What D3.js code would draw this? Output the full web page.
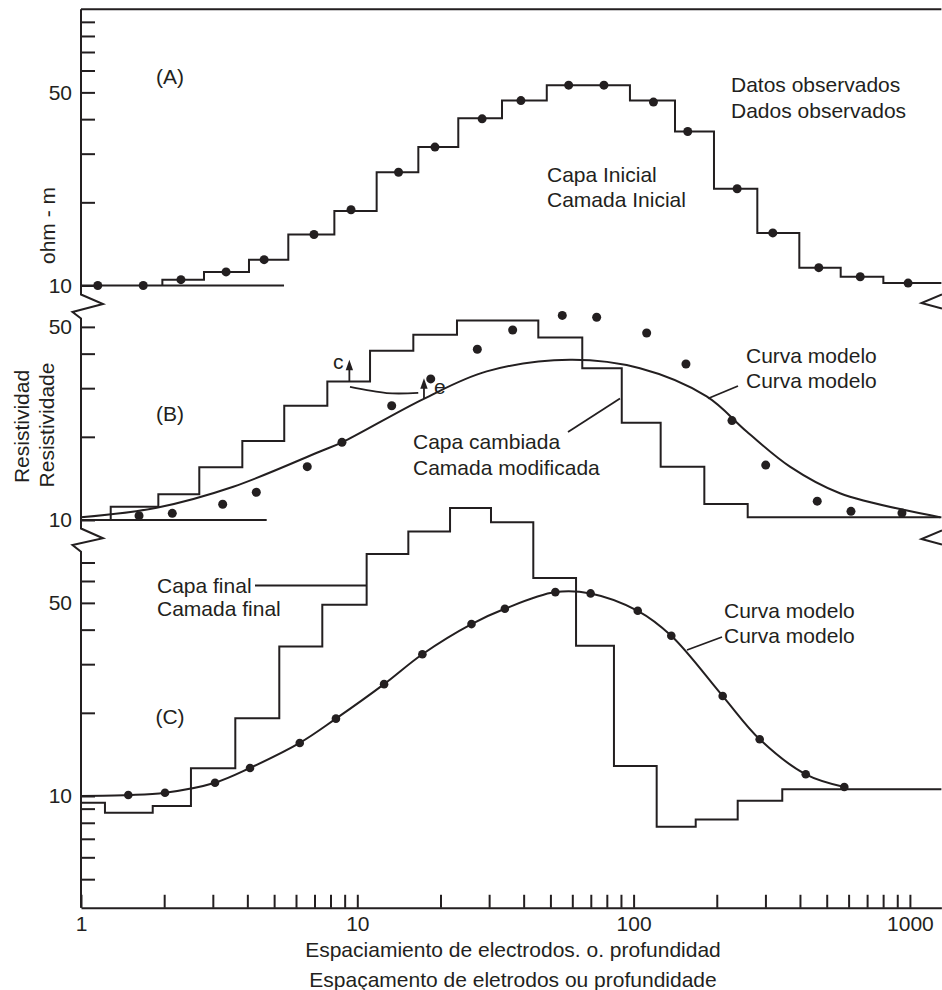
<!DOCTYPE html>
<html>
<head>
<meta charset="utf-8">
<script src="https://cdn.jsdelivr.net/npm/d3@7"></script>
<style>
body { margin: 0; background: #fff; }
svg text { font-family: "Liberation Sans", Arial, Helvetica, sans-serif; font-size: 21px; fill: #231f20; }
</style>
</head>
<body>
<div id="chart"></div>
<script>
// ---- data (x = spacing/depth, y = ohm-m) ----
// (A) observed data + initial layers
var obsA = [[1.15,10.0],[1.68,10.0],[2.30,10.5],[3.35,11.2],[4.60,12.4],[6.97,15.3],[9.49,18.8],[14.1,25.7],
  [19.1,31.7],[28.3,40.1],[39.1,46.7],[58.2,53.1],[78.1,53.1],[118,46.1],[157,36.1],[237,22.4],[319,15.5],
  [468,11.6],[661,10.76],[985,10.2]];
var stepA_x = [1.97,2.787,4.055,5.627,8.26,11.75,16.63,23.2,33.4,48.5,97.0,141.2,195.4,280.4,397.9,561.7,801.5,1300];
var stepA_rho = [10.5,11.2,12.4,15.3,18.6,25.7,31.7,40.3,46.7,53.1,46.7,36.1,22.4,15.5,11.6,10.76,10.2];
var baseA = [[1,10],[5.43,10]];

// (B) observed data, changed layers, model curve
var obsB = [[1.622,10.36],[2.14,10.57],[3.257,11.4],[4.31,12.6],[6.59,15.6],[8.80,19.1],[13.32,25.9],[18.44,32.4],
  [27.19,41.5],[36.5,48.7],[55.2,55.0],[73.5,54.2],[111.5,47.5],[154.7,36.7],[227,22.9],[300.7,15.8],
  [462,11.7],[612,10.75],[936,10.6]];
var stepB_x = [1.281,1.905,2.68,3.836,5.44,7.79,11.12,15.95,22.95,45.2,65.2,90.6,125.3,180.3,258.8,1300];
var stepB_rho = [11.17,12.39,15.52,19.3,25.9,31.7,40.97,46.8,52.7,45.8,35.4,22.5,15.6,11.43,10.23];
var baseB = [[1,10],[4.70,10]];
var curveB = [[1,10.23],[1.879,11.08],[3.557,13.2],[7.33,17.7],[8.80,19.1],[17.33,27.4],[29.4,34.5],[58.8,38.0],
  [105.4,35.4],[183.8,28.0],[256.5,20.9],[367.9,15.6],[558,12.5],[1284,10.23]];

// (C) observed data, final layers, model curve
var obsC = [[1.483,10.08],[2.014,10.28],[3.055,11.17],[4.09,12.63],[6.19,15.56],[8.37,19.05],[12.5,25.4],[17.2,32.6],
  [25.9,41.9],[34.2,47.6],[52.1,54.7],[69.9,54.1],[103.5,46.8],[136.9,38.0],[210.1,23.0],[286,16.05],
  [419.8,11.98],[578.9,10.78]];
var stepC_x = [1,1.221,1.818,2.50,3.618,5.22,7.47,10.81,15.30,21.66,30.47,43.35,61.9,84.9,121.2,167.8,238.1,345.2,1300];
var stepC_rho = [9.46,8.70,9.20,12.6,19.1,34.75,49.2,75.1,90.7,110.3,97.8,61.5,35.0,12.85,7.74,8.23,9.62,10.57];
var curveC = [[1,10.0]].concat(obsC);

// ticks
var yTicksA = [10,20,30,40,50,60,70,80,90];
var yTicksB = [10,20,30,40,50];
var yTicksC = [5,6,7,8,9,10,20,30,40,50,60,70];
var yTickLabels = [10,50];
var xTickLabels = [1,10,100,1000];

// ---- layout ----
var svgwdth = 942, svghght = 990;
var ink = "#231f20";
var decade = 276.3;
var left = 81;

var svg = d3.select("#chart").append("svg")
  .attr("width", svgwdth)
  .attr("height", svghght);

var x = d3.scaleLog().domain([1, 1300]).range([left, left + Math.log10(1300) * decade]);
function yScale(base) {
  return d3.scaleLog().domain([10, 100]).range([base, base - decade]);
}
var yA = yScale(285.5), yB = yScale(520), yC = yScale(796);
var xAxisY = yC(3.94);

function line(y) {
  return d3.line().x(d => x(d[0])).y(d => y(d[1]));
}

//---- axes ----
function yAxis(y, ticks) {
  var g = svg.append("g")
    .attr("transform", `translate(${left},0)`)
    .call(d3.axisLeft(y).tickValues(ticks).tickSize(-14).tickSizeOuter(0).tickPadding(9)
      .tickFormat(d => yTickLabels.indexOf(d) >= 0 ? d : ""));
  g.select(".domain").remove();
  g.selectAll("line").attr("stroke", ink).attr("stroke-width", 2);
}
yAxis(yA, yTicksA);
yAxis(yB, yTicksB);
yAxis(yC, yTicksC);

var xg = svg.append("g")
  .attr("transform", `translate(0,${xAxisY})`)
  .call(d3.axisBottom(x).tickSize(-13).tickSizeOuter(0).tickPadding(8)
    .tickFormat(d => xTickLabels.indexOf(Math.round(d)) >= 0 ? Math.round(d) : ""));
xg.select(".domain").attr("stroke", ink).attr("stroke-width", 2);
xg.selectAll("line").attr("stroke", ink).attr("stroke-width", 2);

// top frame
svg.append("line")
  .attr("x1", left).attr("x2", x(1300))
  .attr("y1", yA(100)).attr("y2", yA(100))
  .attr("stroke", ink).attr("stroke-width", 2);

// left axis with breaks
var b1 = yA(10), b2 = yB(10);
var leftPts = [[left, yA(100)], [left, b1 + 9], [left + 22, b1 + 18.5], [left - 8.5, b1 + 26.5], [left, b1 + 33],
  [left, b2 + 8.5], [left + 22, b2 + 18.3], [left - 8.5, b2 + 25], [left, b2 + 31.7], [left, xAxisY]];
svg.append("path")
  .attr("d", d3.line()(leftPts))
  .attr("fill", "none").attr("stroke", ink).attr("stroke-width", 2).attr("stroke-linejoin", "miter");

// right break marks
[b1 + 9, b2 + 10.5].forEach(function(t) {
  svg.append("path")
    .attr("d", d3.line()([[942, t], [921.5, t + 8.5], [942, t + 14]]))
    .attr("fill", "none").attr("stroke", ink).attr("stroke-width", 2);
});

//---- panels ----
function stepPath(xs, rhos, start) {
  var pts = xs.map((v, i) => [v, rhos[Math.min(i, rhos.length - 1)]]);
  if (start != null) pts.unshift([xs[0], start]);
  return pts;
}

function drawPanel(y, obs, stepXs, stepRhos, start, base, curve, r) {
  var g = svg.append("g");
  if (base) {
    g.append("path").attr("d", line(y)(base))
      .attr("fill", "none").attr("stroke", ink).attr("stroke-width", 2);
  }
  g.append("path")
    .attr("d", line(y).curve(d3.curveStepAfter)(stepPath(stepXs, stepRhos, start)))
    .attr("fill", "none").attr("stroke", ink).attr("stroke-width", 2);
  if (curve) {
    g.append("path")
      .attr("d", line(y).curve(d3.curveCatmullRom.alpha(0.5))(curve))
      .attr("fill", "none").attr("stroke", ink).attr("stroke-width", 2);
  }
  g.selectAll("circle").data(obs).enter().append("circle")
    .attr("cx", d => x(d[0]))
    .attr("cy", d => y(d[1]))
    .attr("r", r)
    .attr("fill", ink);
}

drawPanel(yA, obsA, stepA_x, stepA_rho, 10, baseA, null, 4.5);
drawPanel(yB, obsB, stepB_x, stepB_rho, 10, baseB, curveB, 4.5);
drawPanel(yC, obsC, stepC_x, stepC_rho, null, null, curveC, 4.3);

//---- annotations ----
function label(txt, px, py, anchor) {
  return svg.append("text").attr("x", px).attr("y", py)
    .attr("text-anchor", anchor || "start").text(txt);
}
function leader(x1, y1, x2, y2) {
  svg.append("line").attr("x1", x1).attr("y1", y1).attr("x2", x2).attr("y2", y2)
    .attr("stroke", ink).attr("stroke-width", 1.8);
}

label("(A)", 170, 84, "middle");
label("(B)", 170, 421, "middle");
label("(C)", 170, 724, "middle");

label("Datos observados", 731, 91.5);
label("Dados observados", 731, 117.5);
label("Capa Inicial", 547, 181.5);
label("Camada Inicial", 547, 206.5);

label("Capa cambiada", 413, 448.5);
label("Camada modificada", 413, 475);
leader(568, 432, 620, 398.5);
label("Curva modelo", 746, 362.5);
label("Curva modelo", 746, 387.5);
leader(708, 398.5, 738, 386);

label("Capa final", 157, 592.5);
label("Camada final", 157, 616);
leader(255, 585.5, x(10.81), 585.5);
label("Curva modelo", 724, 618);
label("Curva modelo", 724, 643);
leader(687, 650, 722, 637);

// c / e arrows (layer shift)
function arrow(xv, r0, r1, y) {
  var px = x(xv), p0 = y(r0), p1 = y(r1);
  svg.append("line").attr("x1", px).attr("x2", px).attr("y1", p0).attr("y2", p1 + 8)
    .attr("stroke", ink).attr("stroke-width", 1.8);
  svg.append("path")
    .attr("d", `M${px},${p1} L${px - 3.7},${p1 + 10.5} L${px + 3.7},${p1 + 10.5} Z`)
    .attr("fill", ink);
}
arrow(9.36, 31.7, 38.0, yB);
arrow(17.43, 27.4, 32.6, yB);
svg.append("path")
  .attr("d", line(yB).curve(d3.curveNatural)([[9.41, 30.3], [12.77, 28.8], [16.62, 28.85]]))
  .attr("fill", "none").attr("stroke", ink).attr("stroke-width", 1.8);
label("c", 333, 368.5);
label("e", 434, 393.5);

// axis titles
label("Espaciamiento de electrodos. o. profundidad", 513, 956.5, "middle");
label("Espaçamento de eletrodos ou profundidade", 513, 987, "middle");

function vlabel(txt, bx, cy) {
  svg.append("text")
    .attr("transform", `translate(${bx},${cy}) rotate(-90)`)
    .attr("text-anchor", "middle")
    .text(txt);
}
vlabel("Resistividad", 28.5, 426.5);
vlabel("Resistividade", 53.5, 425);
vlabel("ohm - m", 55, 225.5);
</script>
</body>
</html>
